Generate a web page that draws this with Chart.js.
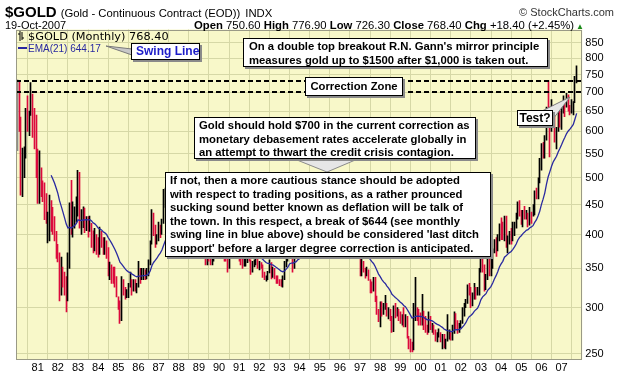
<!DOCTYPE html>
<html><head><meta charset="utf-8">
<script src="https://cdn.jsdelivr.net/npm/chart.js@4.4.0/dist/chart.umd.min.js"></script>
<style>
html,body{margin:0;padding:0;background:#fff;}
#wrap{position:relative;width:620px;height:376px;overflow:hidden;font-family:'Liberation Sans',Arial,sans-serif;color:#000;}
#cw{position:absolute;left:0;top:0;width:620px;height:376px;}
.t{position:absolute;white-space:nowrap;}
.ab{position:absolute;background:#fff;border:1px solid #000;box-shadow:2px 2px 0 #8a8a8a;font:bold 11.3px 'Liberation Sans',Arial,sans-serif;line-height:13.6px;white-space:nowrap;box-sizing:border-box;}
</style></head>
<body>
<div id="wrap">
<div id="cw"><canvas id="c"></canvas></div>
<div class="t" style="left:5px;top:3px;"><span style="font:bold 15px 'Liberation Sans'">$GOLD</span><span style="font:11.3px 'Liberation Sans';margin-left:4px">(Gold - Continuous Contract (EOD))</span><span style="font:11.3px 'Liberation Sans';margin-left:5px">INDX</span></div>
<div class="t" style="right:6px;top:6px;font:11px 'Liberation Sans';color:#333">© StockCharts.com</div>
<div class="t" style="left:5px;top:19px;font:11px 'Liberation Sans'">19-Oct-2007</div>
<div class="t" style="right:36px;top:19px;font:11.3px 'Liberation Sans'"><b>Open</b> 750.60 <b>High</b> 776.90 <b>Low</b> 726.30 <b>Close</b> 768.40 <b>Chg</b> +18.40 (+2.45%)<span style="color:#1a8a1a;font-size:8px;margin-left:2px">▲</span></div>
<div class="t" style="left:18px;top:30px;font:11.3px 'DejaVu Sans'"><svg width="8" height="10" style="vertical-align:-1px;margin-right:2px"><path d="M2 0V10M0 3H2M4 1V9M4 7H6" stroke="#000" fill="none"/></svg>$GOLD (Monthly) 768.40</div>
<div class="t" style="left:18px;top:43px;font:10px 'Liberation Sans';color:#2828a0"><span style="display:inline-block;width:9px;height:2px;background:#2828a0;vertical-align:3px;margin-right:1px"></span>EMA(21) 644.17</div>
<div class="ab" style="left:131px;top:43px;width:69px;height:17px;color:#1c1cc8;font-size:12px;padding-left:4px;line-height:15px">Swing Line</div>
<div class="ab" style="left:243px;top:38px;width:305px;height:29px;padding:1px 0 0 5px">On a double top breakout R.N. Gann's mirror principle<br>measures gold up to $1500 after $1,000 is taken out.</div>
<div class="ab" style="left:305px;top:77px;width:98px;height:19px;text-align:center;line-height:17px">Correction Zone</div>
<div class="ab" style="left:194px;top:117px;width:282px;height:42px;padding:1px 0 0 4px">Gold should hold $700 in the current correction as<br>monetary debasement rates accelerate globally in<br>an attempt to thwart the credit crisis contagion.</div>
<div class="ab" style="left:165px;top:172px;width:326px;height:85px;padding:1px 0 0 4px">If not, then a more cautious stance should be adopted<br>with respect to trading positions, as a rather prounced<br>sucking sound better known as deflation will be talk of<br>the town. In this respect, a break of $644 (see monthly<br>swing line in blue above) should be considered 'last ditch<br>support' before a larger degree correction is anticipated.</div>
<div class="ab" style="left:517px;top:110px;width:36px;height:16px;text-align:center;line-height:14px;font-size:12px">Test?</div>
</div>
<script>
// ---- data: monthly bars Jan 1980 .. Oct 2007 ----
const startYear = 1980;
const highs = [
735,730,635,562,565,657,690,650,727,695,657,640,
560,556,520,494,490,470,437,467,457,445,429,405,
385,372,366,352,345,339,372,453,495,455,446,464,
515,511,441,446,444,429,429,430,418,406,410,400,
395,412,405,395,395,390,380,359,355,352,352,339,
313,308,339,335,325,322,330,345,335,335,335,330,
360,350,350,350,348,350,362,390,441,435,415,400,
420,415,425,478,480,465,475,470,465,485,500,500,
485,460,460,460,465,465,445,445,430,415,430,430,
410,395,395,390,380,375,380,375,370,380,410,420,
425,425,410,385,375,365,375,415,415,415,390,390,
405,370,370,365,365,372,372,362,360,362,370,368,
360,358,355,345,340,346,362,358,352,350,340,340,
335,335,340,360,380,380,410,408,375,375,375,395,
395,390,395,392,390,395,392,390,400,398,392,385,
385,380,396,396,392,392,390,390,388,390,390,390,
418,417,405,400,396,392,390,392,390,385,385,375,
370,368,360,350,352,348,335,332,338,338,314,298,
307,307,305,315,305,300,298,290,302,305,300,298,
295,292,300,292,290,268,265,262,305,338,300,298,
294,316,296,290,280,295,290,282,280,275,272,276,
272,270,270,265,292,275,272,280,295,293,285,282,
285,300,305,310,328,330,325,318,330,325,325,350,
372,390,355,342,370,373,365,378,392,395,400,417,
427,420,430,430,398,405,410,420,420,435,455,457,
440,440,447,440,435,445,437,450,475,480,500,540,
572,575,590,660,733,660,680,665,640,610,650,650,
660,690,675,697,693,665,680,675,745,777];
const lows = [
556,600,467,464,500,540,600,590,639,586,560,500,
452,452,464,455,424,418,387,390,405,400,390,364,
359,308,315,325,315,295,308,350,400,396,410,420,
430,410,400,411,403,406,396,405,380,372,375,370,
366,370,380,370,370,364,340,335,330,330,325,313,
298,282,285,315,310,312,312,325,315,320,320,318,
325,330,335,335,335,336,340,355,385,398,380,385,
390,395,400,418,445,440,445,450,445,455,465,480,
455,425,425,445,445,435,425,425,392,395,405,405,
390,380,380,375,355,355,360,355,355,360,375,400,
395,400,365,360,360,345,350,365,385,375,375,370,
360,355,350,353,353,358,360,342,345,352,355,350,
348,350,338,335,333,335,344,336,338,336,330,330,
327,326,325,335,352,360,375,365,345,350,365,367,
375,375,378,372,375,380,380,378,385,386,382,376,
372,372,374,385,381,385,380,380,381,380,380,384,
395,395,393,390,388,380,380,385,378,377,370,365,
340,340,345,337,340,334,318,318,320,307,292,284,
278,290,292,298,290,287,285,272,273,288,290,285,
282,280,278,278,266,255,252,252,254,285,285,280,
280,280,275,272,270,272,275,272,270,263,262,267,
262,255,256,255,263,265,264,264,271,276,271,272,
277,282,290,300,305,315,300,302,310,310,315,315,
345,345,320,322,335,340,340,350,372,367,375,390,
392,392,390,380,372,385,385,390,398,410,425,430,
416,412,425,425,412,415,418,430,432,460,460,490,
515,540,540,580,640,543,600,610,575,560,600,610,
605,645,636,660,650,640,645,640,672,726];
const closes = [
650,640,490,515,545,650,615,635,670,625,615,590,
500,505,500,480,470,425,430,440,430,425,410,385,
370,325,350,335,325,315,350,420,400,430,435,450,
485,415,420,432,425,428,422,425,405,385,400,385,
372,395,390,375,385,375,345,350,343,335,330,315,
305,290,330,322,318,320,328,335,325,327,325,328,
350,338,343,345,342,346,358,386,425,405,390,395,
410,405,420,455,460,448,465,455,462,470,492,486,
458,427,457,449,455,437,438,431,397,412,422,410,
394,387,383,377,362,373,368,359,366,375,408,401,
415,407,368,367,363,352,372,387,408,380,383,386,
366,362,355,357,360,368,362,347,354,358,366,353,
354,353,341,336,337,343,357,340,349,339,334,333,
330,328,337,355,377,378,401,371,355,369,370,392,
377,381,392,376,387,385,384,385,395,389,384,383,
375,376,392,389,385,387,383,382,384,383,387,388,
405,400,396,392,390,382,385,387,379,380,371,369,
345,364,348,340,345,335,326,325,332,311,296,290,
304,297,301,310,293,296,288,273,294,292,294,288,
287,288,280,286,268,262,255,254,299,300,292,290,
284,293,277,274,273,288,277,278,273,264,270,273,
265,267,258,264,267,270,265,273,293,278,275,279,
282,297,302,309,326,318,305,312,324,317,318,348,
368,347,334,337,364,346,354,375,388,384,398,417,
400,396,426,388,394,395,391,409,416,428,453,438,
422,435,428,436,417,437,430,434,473,465,496,517,
569,556,582,654,643,614,633,623,600,604,648,636,
651,672,664,683,660,651,666,673,742,768];
// EMA(21) (swing line), starting Sep 1981
const emaStart = 20;
const ema21 = [
505,497.7,489.7,480.2,
470.2,457.0,447.3,437.1,426.9,416.7,410.6,411.5,410.5,412.3,414.4,417.6,
423.7,422.9,422.6,423.5,423.6,424.0,423.8,423.9,422.2,418.8,417.1,414.2,
410.4,409.0,407.3,404.4,402.6,400.1,395.1,391.0,386.6,381.9,377.2,371.5,
365.5,358.6,356.0,352.9,349.7,347.0,345.3,344.4,342.6,341.2,339.7,338.6,
339.6,339.5,339.8,340.3,340.5,341.0,342.5,346.5,353.6,358.3,361.2,364.3,
368.5,371.8,376.2,383.4,390.4,395.6,401.9,406.7,411.7,417.0,423.8,429.5,
432.1,431.6,433.9,435.3,437.1,437.1,437.2,436.6,433.0,431.1,430.3,428.5,
425.4,421.9,418.4,414.6,409.8,406.5,403.0,399.0,396.0,394.1,395.4,395.9,
397.6,398.5,395.7,393.1,390.4,386.9,385.5,385.6,387.7,387.0,386.6,386.6,
384.7,382.6,380.1,378.0,376.4,375.6,374.4,371.9,370.3,369.2,368.9,367.4,
366.2,365.0,362.8,360.4,358.3,356.9,356.9,355.4,354.8,353.4,351.6,349.9,
348.1,346.3,345.5,346.4,349.1,351.7,356.2,357.5,357.3,358.4,359.4,362.4,
363.7,365.3,367.7,368.5,370.1,371.5,372.6,373.7,375.7,376.9,377.5,378.0,
377.7,377.6,378.9,379.8,380.3,380.9,381.1,381.2,381.4,381.6,382.1,382.6,
384.6,386.0,386.9,387.4,387.6,387.1,386.9,386.9,386.2,385.6,384.3,382.9,
379.5,378.1,375.4,372.2,369.7,366.5,362.8,359.4,356.9,352.7,347.6,342.3,
338.8,335.0,331.9,329.9,326.5,323.8,320.5,316.2,314.2,312.2,310.5,308.5,
306.5,304.8,302.6,301.1,298.1,294.8,291.2,287.8,288.8,289.8,290.0,290.0,
289.5,289.8,288.6,287.3,286.0,286.2,285.4,284.7,283.6,281.9,280.8,280.1,
278.7,277.6,275.8,274.8,274.1,273.7,272.9,272.9,274.7,275.0,275.0,275.4,
276.0,277.9,280.1,282.7,286.6,289.5,290.9,292.8,295.6,297.6,299.4,303.8,
309.6,313.0,314.9,316.9,321.2,323.4,326.2,330.6,335.8,340.2,345.5,352.0,
356.3,359.9,365.9,367.9,370.3,372.5,374.2,377.4,380.9,385.2,391.4,395.6,
398.0,401.4,403.8,406.7,407.6,410.3,412.1,414.1,419.4,423.6,430.2,438.1,
450.0,459.6,470.7,487.4,501.5,511.8,522.8,531.9,538.1,544.1,553.5,561.0,
569.2,578.5,586.3,595.1,601.0,605.5,611.0,616.7,630.0,644.2];
const yearTicks = [1981,1982,1983,1984,1985,1986,1987,1988,1989,1990,1991,1992,1993,1994,1995,1996,1997,1998,1999,2000,2001,2002,2003,2004,2005,2006,2007];
const yearLabels = ['81','82','83','84','85','86','87','88','89','90','91','92','93','94','95','96','97','98','99','00','01','02','03','04','05','06','07'];
const priceTicks = [250,300,350,400,450,500,550,600,650,700,750,800,850];
const zoneLevels = [700, 733];

// ---- build ----
const barPts = highs.map((h,i)=>({x: startYear + i/12, y:[lows[i], h]}));
const barCols = closes.map((c,i)=> i===0 ? '#8c8c8c' : (c < closes[i-1] ? '#dc0a3c' : '#000000'));
const emaPts = ema21.map((v,k)=>({x: startYear + (k+emaStart)/12, y: v}));

const deco = {
  id:'deco',
  afterDatasetsUpdate(ch){
    const meta = ch.getDatasetMeta(1);
    meta.data.forEach(el=>{ el.x = Math.floor(el.x) + 0.5; });
  },
  beforeDraw(ch){
    const {ctx, chartArea:a} = ch;
    ctx.save(); ctx.fillStyle='#f8f8c9'; ctx.fillRect(a.left,a.top,a.right-a.left,a.bottom-a.top); ctx.restore();
  },
  afterDatasetsDraw(ch){
    const {ctx, chartArea:a, scales:{y}} = ch;
    ctx.save(); ctx.strokeStyle='#000'; ctx.lineWidth=2; ctx.setLineDash([5,3]);
    zoneLevels.forEach(v=>{ const py=Math.round(y.getPixelForValue(v)); ctx.beginPath(); ctx.moveTo(a.left,py); ctx.lineTo(a.right,py); ctx.stroke(); });
    ctx.restore();
  },
  afterDraw(ch){
    const {ctx, chartArea:a} = ch;
    ctx.save();
    ctx.strokeStyle='#9a9a86'; ctx.lineWidth=1;
    ctx.strokeRect(Math.round(a.left)+0.5, Math.round(a.top)+0.5, Math.round(a.right-a.left)-1, Math.round(a.bottom-a.top)-1);
    const tri=(p,fill,stroke)=>{ctx.beginPath();ctx.moveTo(p[0],p[1]);ctx.lineTo(p[2],p[3]);ctx.lineTo(p[4],p[5]);ctx.closePath();ctx.fillStyle=fill;ctx.fill();ctx.strokeStyle=stroke;ctx.stroke();};
    tri([106,46,132,49,132,55],'#c8c8c8','#7a7a7a');
    tri([327,172,292,158,360,158],'#e6e6e6','#8a8a8a');
    tri([570,97,540,112,553,119],'#e6e6e6','#7a7a7a');
    ctx.restore();
  }
};

new Chart(document.getElementById('c'), {
  type:'bar',
  data:{datasets:[
    {type:'line', data:emaPts, borderColor:'#2a2aa0', borderWidth:1.3, pointRadius:0, tension:0, order:0},
    {type:'bar', data:barPts, backgroundColor:barCols, barThickness:1, borderWidth:0, order:1}
  ]},
  options:{
    animation:false, responsive:true, maintainAspectRatio:false, devicePixelRatio:1,
    plugins:{legend:{display:false}, tooltip:{enabled:false}},
    layout:{padding:{left:16, top:29.5, right:0, bottom:0}},
    scales:{
      x:{type:'linear', min:1979.923, max:2008.03, offset:false,
         afterBuildTicks:s=>{s.ticks=yearTicks.map(v=>({value:v}));},
         afterFit:s=>{s.height=16.7;},
         grid:{color:'#d6d8a6', lineWidth:1, drawTicks:false},
         border:{display:false},
         ticks:{autoSkip:false, maxRotation:0, padding:2, color:'#000', font:{family:'Liberation Sans', size:11},
                callback:(v,i)=>yearLabels[i]}},
      y:{type:'logarithmic', position:'right', min:244.8, max:896,
         afterBuildTicks:s=>{s.ticks=priceTicks.map(v=>({value:v}));},
         afterFit:s=>{s.width=37.7;},
         grid:{color:'#d6d8a6', lineWidth:1, drawTicks:false},
         border:{display:false},
         ticks:{padding:3, color:'#000', font:{family:'Liberation Sans', size:11}, callback:v=>String(v)}}
    }
  },
  plugins:[deco]
});
</script>
</body></html>
